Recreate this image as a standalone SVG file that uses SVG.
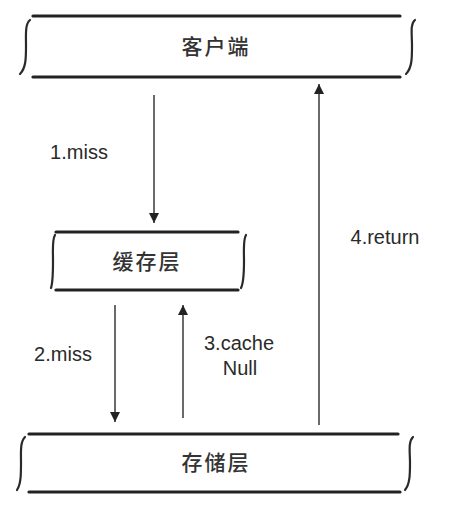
<svg xmlns="http://www.w3.org/2000/svg" width="449" height="522" viewBox="0 0 449 522">
<style>
.edge{stroke:#222;stroke-width:3.2;fill:none;stroke-linecap:round}
.brace{stroke:#2a2a2a;stroke-width:2.2;fill:none;stroke-linecap:round}
.arr{stroke:#444;stroke-width:1.6;fill:none}
.cn{font-family:"Noto Sans CJK SC","Noto Sans",sans-serif;font-size:21px;font-weight:500;fill:#333;text-anchor:middle;letter-spacing:2px}
.lbl{font-family:"Liberation Sans",Arial,sans-serif;font-size:20px;fill:#2a2a2a;text-anchor:middle}
</style>
<defs>
<marker id="ah" viewBox="0 0 10 10" refX="10" refY="5" markerWidth="10" markerHeight="10" markerUnits="userSpaceOnUse" orient="auto">
<path d="M0,0 L10,5 L0,10 z" fill="#222"/>
</marker>
</defs>
<rect width="449" height="522" fill="#fff"/>
<g id="client">
<line class="edge" x1="33" y1="16" x2="400" y2="16"/>
<line class="edge" x1="33" y1="77" x2="400" y2="77"/>
<path class="brace" d="M30,20 C25,24 26,34 26,46 C26,58 26,68 20,74"/>
<path class="brace" d="M415,20 C410,24 412,34 412,46 C412,58 412,68 406,74"/>
<text class="cn" x="216" y="54">客户端</text>
</g>
<g id="cache">
<line class="edge" x1="56" y1="232" x2="238" y2="232"/>
<line class="edge" x1="56" y1="290" x2="238" y2="290"/>
<path class="brace" d="M55,235 C52,240 53,250 53,261 C53,272 53,282 51,288"/>
<path class="brace" d="M246,235 C243,240 244,250 244,261 C244,272 244,282 241,288"/>
<text class="cn" x="147" y="269">缓存层</text>
</g>
<g id="storage">
<line class="edge" x1="29" y1="434" x2="398" y2="434"/>
<line class="edge" x1="29" y1="492" x2="400" y2="492"/>
<path class="brace" d="M25,437 C20,442 21,452 21,463 C21,474 21,484 17,490"/>
<path class="brace" d="M413,437 C408,442 410,452 410,463 C410,474 410,484 405,490"/>
<text class="cn" x="216" y="470">存储层</text>
</g>
<g id="connectors">
<line class="arr" x1="154" y1="95" x2="154" y2="223" marker-end="url(#ah)"/>
<line class="arr" x1="115" y1="305" x2="115" y2="422" marker-end="url(#ah)"/>
<line class="arr" x1="183" y1="418" x2="183" y2="305" marker-end="url(#ah)"/>
<line class="arr" x1="319" y1="425" x2="319" y2="84" marker-end="url(#ah)"/>
<text class="lbl" x="79" y="159">1.miss</text>
<text class="lbl" x="63" y="361">2.miss</text>
<text class="lbl" x="239" y="350">3.cache</text>
<text class="lbl" x="240" y="375">Null</text>
<text class="lbl" x="385" y="244">4.return</text>
</g>
</svg>
